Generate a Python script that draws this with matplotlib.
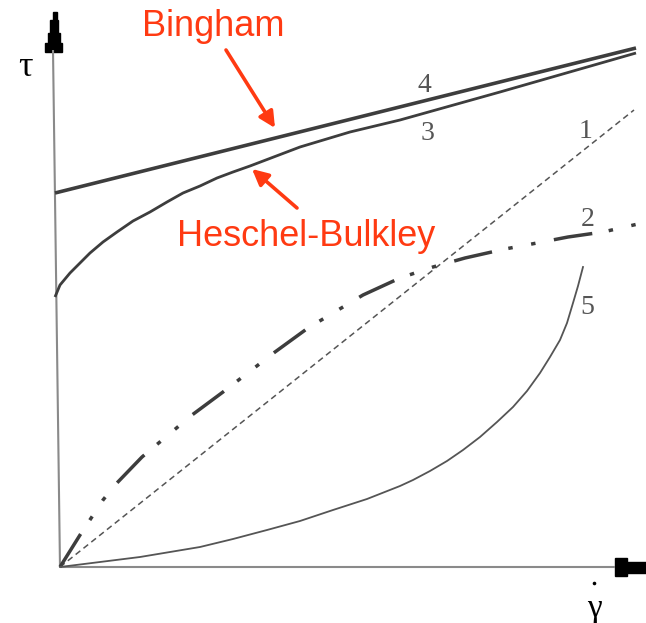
import matplotlib
matplotlib.use("Agg")
import matplotlib.pyplot as plt
from matplotlib.patches import Polygon
import numpy as np

# dados (gamma ponto = taxa de cisalhamento, tau = tensao), unidades arbitrarias
g4 = [-5, 576]
t4 = [374, 519]

g3 = [-5, 0, 10, 20, 30, 43, 57, 73, 90, 107, 123, 140, 157, 173, 190, 240, 290, 340, 440, 576]
t3 = [270, 282, 294, 304, 314, 325, 335, 346, 355, 365, 374, 381, 389, 395, 401, 420, 435, 447, 475, 514]

g1 = [0, 574]
t1 = [0, 457]

g2 = [0, 20, 43, 55, 82, 132, 163, 215, 248, 303, 340, 373, 405, 445, 477, 508, 543, 578]
t2 = [0, 32, 67, 82, 110, 152, 175, 215, 239, 272, 289, 300, 309, 318, 324, 330, 335, 343]

g5 = [0, 40, 80, 140, 173, 207, 240, 273, 307, 340, 353, 370, 387, 403, 420, 437, 453,
      467, 480, 490, 500, 507, 513, 518, 523]
t5 = [0, 5, 10, 20, 28, 37, 46, 57, 68, 81, 87, 96, 106, 117, 130, 145, 160,
      176, 194, 210, 227, 244, 264, 281, 300]

# rotulos das curvas: texto, gamma, tau
rotulos = ["4", "3", "1", "2", "5"]
rot_g = [364, 368, 526, 528, 527]
rot_t = [481, 434, 436, 348, 260]

vermelho = "#ff3a12"
cinza = "#3d3d3d"

plt.rcParams['lines.scale_dashes'] = False

fig = plt.figure(figsize=(6.46, 6.23), dpi=100)
ax = fig.add_axes([0, 0, 1, 1])
ax.set_xlim(-60, 586)
ax.set_ylim(-56, 567)
ax.axis("off")

# eixos (levemente inclinados como no escaneado)
ax.plot([0, -7], [0, 517], color="#8a8a8a", lw=1.5, solid_capstyle="butt")
ax.plot([0, 555], [0, 0], color="#8a8a8a", lw=1.5, solid_capstyle="butt")

# pontas das setas dos eixos
seta_y = [(-7, 555), (-3, 555), (-3, 547), (-2, 547), (-2, 534), (0, 534), (0, 524),
          (2, 524), (2, 515), (-15, 515), (-15, 524), (-12, 524), (-12, 534), (-10, 534),
          (-10, 547), (-7, 547)]
seta_x = [(555, 9), (567, 9), (567, 5), (586, 5), (586, -6), (567, -6), (567, -9), (555, -9)]
ax.add_patch(Polygon(seta_y, closed=True, color="black"))
ax.add_patch(Polygon(seta_x, closed=True, color="black"))

# curvas
ax.plot(g4, t4, color=cinza, lw=2.6, solid_capstyle="butt")
ax.plot(g3, t3, color=cinza, lw=2.0, solid_capstyle="butt", solid_joinstyle="round")
ax.plot(g1, t1, color="#555555", lw=1.1, linestyle=(0, (4.3, 2.9)))
ax.plot(g2, t2, color=cinza, lw=2.5, dash_capstyle="butt",
        linestyle=(0, (28, 12, 3.2, 13.5, 3.2, 13.5)))
ax.plot(g5, t5, color="#555555", lw=1.3, solid_joinstyle="round")

for r, x, y in zip(rotulos, rot_g, rot_t):
    ax.text(x, y, r, fontsize=20, family="Liberation Serif", color="#555555",
            ha="center", va="center")

# nomes dos eixos (o ponto do gamma e desenhado como marcador)
ax.text(-35, 500, "τ", fontsize=26, family="Liberation Serif", ha="center", va="center")
ax.text(534, -42, "γ", fontsize=24, family="Liberation Serif", ha="center", va="center")
ax.plot([534], [-16], marker="o", ms=2.6, color="black", mew=0)

# anotacoes em vermelho
ax.annotate("", xy=(215, 439), xytext=(166, 517),
            arrowprops=dict(arrowstyle="-|>", color=vermelho, lw=2.6,
                            mutation_scale=24, shrinkA=0, shrinkB=0))
ax.annotate("", xy=(192, 398), xytext=(237, 359),
            arrowprops=dict(arrowstyle="-|>", color=vermelho, lw=2.6,
                            mutation_scale=24, shrinkA=0, shrinkB=0))
ax.text(153, 541, "Bingham", fontsize=26, family="Liberation Sans", color=vermelho,
        ha="center", va="center")
ax.text(246, 330, "Heschel-Bulkley", fontsize=26, family="Liberation Sans", color=vermelho,
        ha="center", va="center")

fig.savefig("out.png", dpi=100, facecolor="white")
